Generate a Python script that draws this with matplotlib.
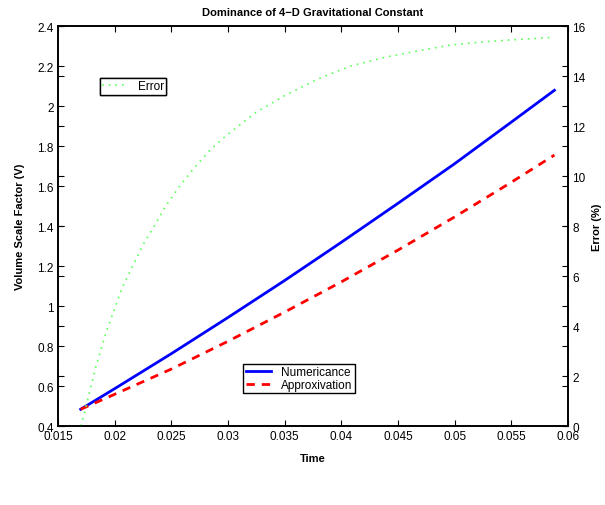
import matplotlib
matplotlib.use("Agg")
import matplotlib.pyplot as plt
from matplotlib.ticker import FormatStrFormatter, MultipleLocator

plt.rcParams["font.family"] = ["Liberation Sans", "DejaVu Sans"]

# values
time_v = [0.0170, 0.020, 0.025, 0.030, 0.035, 0.040, 0.045, 0.050, 0.055, 0.0588]
numeric = [0.484, 0.587, 0.762, 0.943, 1.128, 1.319, 1.514, 1.712, 1.920, 2.079]
approx = [0.484, 0.559, 0.685, 0.824, 0.970, 1.121, 1.280, 1.446, 1.619, 1.755]

time_e = [0.0170, 0.01732, 0.01776, 0.01834, 0.01923, 0.01996, 0.0207, 0.02172,
          0.0226, 0.02348, 0.0245, 0.02583, 0.02715, 0.02847, 0.02979, 0.03111,
          0.03243, 0.03493, 0.03786, 0.0408, 0.04372, 0.04666, 0.0496, 0.05253,
          0.05547, 0.0588]
error = [0.0, 0.51, 1.32, 2.38, 3.73, 4.65, 5.58, 6.52,
         7.33, 7.99, 8.8, 9.66, 10.4, 11.07, 11.6, 12.07,
         12.54, 13.2, 13.87, 14.4, 14.74, 15.0, 15.24, 15.37,
         15.46, 15.55]

fig = plt.figure(figsize=(6.05, 5.06), dpi=100)
ax = fig.add_axes([0.0959, 0.156, 0.843, 0.7905])
ax2 = ax.twinx()

(l_num,) = ax.plot(time_v, numeric, color="blue", lw=2)
(l_app,) = ax.plot(time_v, approx, color="red", lw=2, ls=(0, (3, 2.5)))
(l_err,) = ax2.plot(time_e, error, color=(0.35, 1.0, 0.35), lw=1.2, ls=(0, (1, 3)))

ax.set_xlim(0.015, 0.06)
ax.set_ylim(0.4, 2.4)
ax2.set_ylim(0, 16)
ax.xaxis.set_major_locator(MultipleLocator(0.005))
ax.yaxis.set_major_locator(MultipleLocator(0.2))
ax2.yaxis.set_major_locator(MultipleLocator(2))
ax.xaxis.set_major_formatter(FormatStrFormatter("%g"))
ax.yaxis.set_major_formatter(FormatStrFormatter("%g"))

ax.tick_params(direction="in", length=4, width=0.8, labelsize=8.5, top=True, pad=3)
ax.tick_params(axis="y", right=True)
ax2.tick_params(direction="in", length=4, width=0.8, labelsize=8.5, left=True, pad=3)
for a in (ax, ax2):
    for s in a.spines.values():
        s.set_linewidth(1.2)

ax.set_title("Dominance of 4\u2212D Gravitational Constant", fontsize=8, fontweight="bold", pad=8)
ax.set_xlabel("Time", fontsize=8, fontweight="bold", labelpad=8)
ax.set_ylabel("Volume Scale Factor (V)", fontsize=8, fontweight="bold", labelpad=9)
ax2.set_ylabel("Error (%)", fontsize=8, fontweight="bold", labelpad=5)

leg_kw = dict(fontsize=8.5, frameon=True, fancybox=False, edgecolor="black",
              framealpha=1, borderaxespad=0, handlelength=2.2, borderpad=0.2,
              labelspacing=0.05, handletextpad=0.8)
leg1 = ax.legend([l_err], ["Error"], loc="upper left", bbox_to_anchor=(0.082, 0.87), **leg_kw)
leg1.get_frame().set_linewidth(1)
ax.add_artist(leg1)
leg2 = ax2.legend([l_num, l_app], ["Numericance", "Approxivation"], loc="upper left",
                  bbox_to_anchor=(0.363, 0.155), **leg_kw)
leg2.get_frame().set_linewidth(1)

fig.savefig("out.png", dpi=100)
